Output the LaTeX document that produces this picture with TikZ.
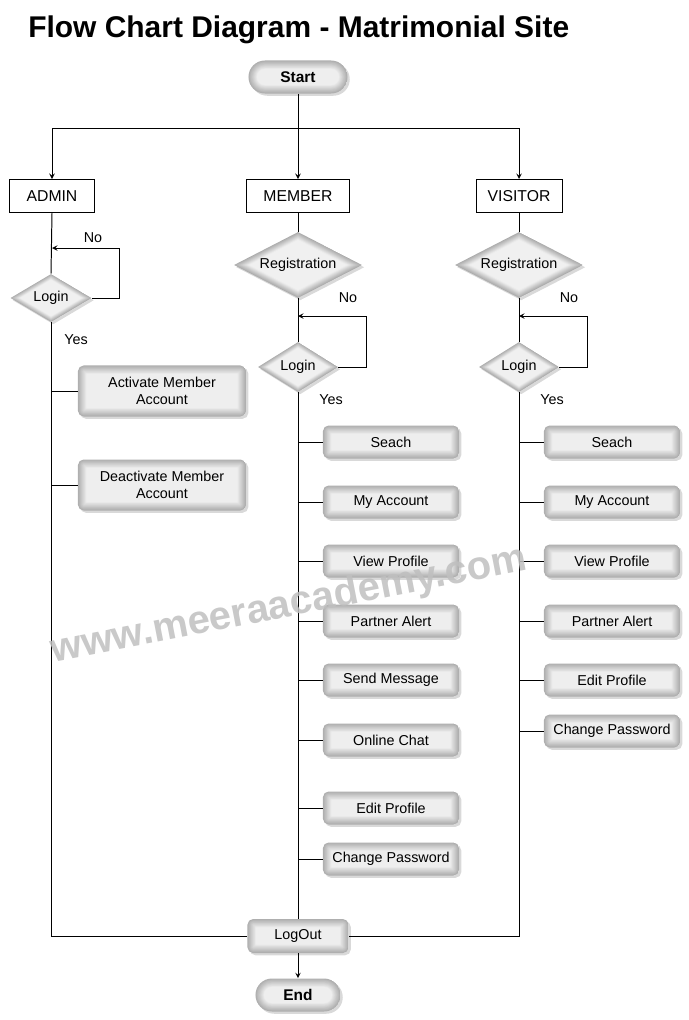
\documentclass[tikz,border=0pt]{standalone}
\usepackage{fontspec}
\setmainfont{Liberation Sans}
\usepackage{tikz}
\usetikzlibrary{shapes.geometric,arrows,positioning,calc,shadows}

% soft grey bevel for the rounded boxes
\newcommand{\bevelfill}[1]{%
  \foreach \k in {0,0.5,...,6}{%
    \pgfmathsetmacro{\shadeval}{max(12,64-8.5*\k)}%
    \pgfmathsetmacro{\cornerval}{max(0.5,#1-\k)}%
    \fill[gray!\shadeval, rounded corners=\cornerval pt]
      ([shift={(\k pt,\k pt)}]path picture bounding box.south west) rectangle
      ([shift={(-\k pt,-\k pt)}]path picture bounding box.north east);}}
% same for the decision diamonds
\newcommand{\diamondfill}{%
  \foreach \k in {0,...,9}{%
    \pgfmathsetmacro{\shadeval}{max(12,64-7*\k)}%
    \pgfmathsetmacro{\scaleval}{1-0.03*\k}%
    \fill[gray!\shadeval]
      ($(path picture bounding box.center)!\scaleval!(path picture bounding box.west)$) --
      ($(path picture bounding box.center)!\scaleval!(path picture bounding box.north)$) --
      ($(path picture bounding box.center)!\scaleval!(path picture bounding box.east)$) --
      ($(path picture bounding box.center)!\scaleval!(path picture bounding box.south)$) -- cycle;}}

\tikzset{
  bodyfont/.style={font=\fontsize{10.2}{12}\selectfont},
  softshadow/.style={drop shadow={shadow xshift=1.6pt, shadow yshift=-1.6pt, opacity=0.3}},
  terminal/.style={softshadow, rounded corners=11.7pt, minimum height=0.825cm,
    font=\fontsize{11}{13}\selectfont\bfseries, path picture={\bevelfill{11.7}}},
  taskbox/.style={softshadow, rounded corners=4pt, minimum width=3.4cm, minimum height=0.825cm,
    bodyfont, align=center, path picture={\bevelfill{4}}},
  decision/.style={softshadow, diamond, aspect=2, inner sep=0pt, bodyfont, path picture={\diamondfill}},
  rolebox/.style={draw, line width=0.7pt, fill=white, minimum height=0.825cm,
    font=\fontsize{11.2}{13}\selectfont},
  flowline/.style={line width=0.7pt},
}

\begin{document}
\begin{tikzpicture}[x=0.025cm, y=-0.025cm, >=stealth]
    \useasboundingbox (0,0) rectangle (689,1020);

    % Title
    \node[anchor=base west, inner sep=0pt, font=\fontsize{21.3}{26}\selectfont\bfseries] (title) at (28,37) {Flow Chart Diagram - Matrimonial Site};

    % Start and the three roles
    \node[terminal, minimum width=2.475cm] (start) at (298,77) {Start};
    \coordinate (fork) at (298,128);
    \node[rolebox, minimum width=2.125cm] (admin) at (52,196) {ADMIN};
    \node[rolebox, minimum width=2.55cm] (member) at (298,196) {MEMBER};
    \node[rolebox, minimum width=2.15cm] (visitor) at (519,196) {VISITOR};

    \draw[flowline] (start.south) -- (fork);
    \draw[flowline, ->] (fork) -| (admin.north);
    \draw[flowline, ->] (fork) -- (member.north);
    \draw[flowline, ->] (fork) -| (visitor.north);

    % Admin column
    \node[decision, minimum width=2.025cm, minimum height=1.2cm] (alogin) at (51,298) {Login};
    \coordinate (aloop) at (52,248);
    \coordinate (aloopc) at (119,248);
    \draw[flowline] (admin.south) -- (alogin.north);
    \draw[flowline, ->] (alogin.east) -| (aloopc) -- (aloop);
    \node[bodyfont] (ano) at (93,238) {No};
    \node[bodyfont] (ayes) at (76,340) {Yes};
    \node[taskbox, minimum width=4.2cm, minimum height=1.275cm] (activate) at (162,391) {Activate Member\\Account};
    \node[taskbox, minimum width=4.2cm, minimum height=1.275cm] (deactivate) at (162,485) {Deactivate Member\\Account};
    \draw[flowline] (activate.west) -- (activate.west -| alogin.south);
    \draw[flowline] (deactivate.west) -- (deactivate.west -| alogin.south);

    % Member column
    \node[decision, minimum width=3.2cm, minimum height=1.65cm] (mreg) at (298,265) {Registration};
    \node[decision, minimum width=2cm, minimum height=1.25cm] (mlogin) at (298,367) {Login};
    \coordinate (mloop) at (298,316);
    \coordinate (mloopc) at (366,316);
    \draw[flowline] (member.south) -- (mreg.north);
    \draw[flowline] (mreg.south) -- (mlogin.north);
    \draw[flowline, ->] (mlogin.east) -| (mloopc) -- (mloop);
    \node[bodyfont] (mno) at (348,298) {No};
    \node[bodyfont] (myes) at (331,400) {Yes};
    \node[taskbox] (msearch) at (391,442) {Seach};
    \node[taskbox] (maccount) at (391,502) {My Account};
    \node[taskbox] (mview) at (391,561) {View Profile};
    \node[taskbox] (malert) at (391,621) {Partner Alert};
    \node[taskbox] (mmessage) at (391,680) {Send Message};
    \node[taskbox] (mchat) at (391,740) {Online Chat};
    \node[taskbox] (medit) at (391,808) {Edit Profile};
    \node[taskbox] (mpass) at (391,859) {Change Password};
    \draw[flowline] (msearch.west) -- (msearch.west -| mlogin.south);
    \draw[flowline] (maccount.west) -- (maccount.west -| mlogin.south);
    \draw[flowline] (mview.west) -- (mview.west -| mlogin.south);
    \draw[flowline] (malert.west) -- (malert.west -| mlogin.south);
    \draw[flowline] (mmessage.west) -- (mmessage.west -| mlogin.south);
    \draw[flowline] (mchat.west) -- (mchat.west -| mlogin.south);
    \draw[flowline] (medit.west) -- (medit.west -| mlogin.south);
    \draw[flowline] (mpass.west) -- (mpass.west -| mlogin.south);

    % Visitor column
    \node[decision, minimum width=3.2cm, minimum height=1.65cm] (vreg) at (519,265) {Registration};
    \node[decision, minimum width=2cm, minimum height=1.25cm] (vlogin) at (519,367) {Login};
    \coordinate (vloop) at (519,316);
    \coordinate (vloopc) at (587,316);
    \draw[flowline] (visitor.south) -- (vreg.north);
    \draw[flowline] (vreg.south) -- (vlogin.north);
    \draw[flowline, ->] (vlogin.east) -| (vloopc) -- (vloop);
    \node[bodyfont] (vno) at (569,298) {No};
    \node[bodyfont] (vyes) at (552,400) {Yes};
    \node[taskbox] (vsearch) at (612,442) {Seach};
    \node[taskbox] (vaccount) at (612,502) {My Account};
    \node[taskbox] (vview) at (612,561) {View Profile};
    \node[taskbox] (valert) at (612,621) {Partner Alert};
    \node[taskbox] (vedit) at (612,680) {Edit Profile};
    \node[taskbox] (vpass) at (612,731) {Change Password};
    \draw[flowline] (vsearch.west) -- (vsearch.west -| vlogin.south);
    \draw[flowline] (vaccount.west) -- (vaccount.west -| vlogin.south);
    \draw[flowline] (vview.west) -- (vview.west -| vlogin.south);
    \draw[flowline] (valert.west) -- (valert.west -| vlogin.south);
    \draw[flowline] (vedit.west) -- (vedit.west -| vlogin.south);
    \draw[flowline] (vpass.west) -- (vpass.west -| vlogin.south);

    % LogOut and End
    \node[taskbox, minimum width=2.525cm, minimum height=0.85cm] (logout) at (298,936) {LogOut};
    \node[terminal, minimum width=2.125cm] (end) at (298,995) {End};
    \draw[flowline] (alogin.south) |- (logout.west);
    \draw[flowline] (mlogin.south) -- (logout.north);
    \draw[flowline] (vlogin.south) |- (logout.east);
    \draw[flowline, ->] (logout.south) -- (end.north);

    % Watermark
    \node[rotate=11, text=gray!50, opacity=0.85, font=\fontsize{28.5}{30}\selectfont\bfseries] (mark) at (289,606) {www.meeraacademy.com};
\end{tikzpicture}
\end{document}
